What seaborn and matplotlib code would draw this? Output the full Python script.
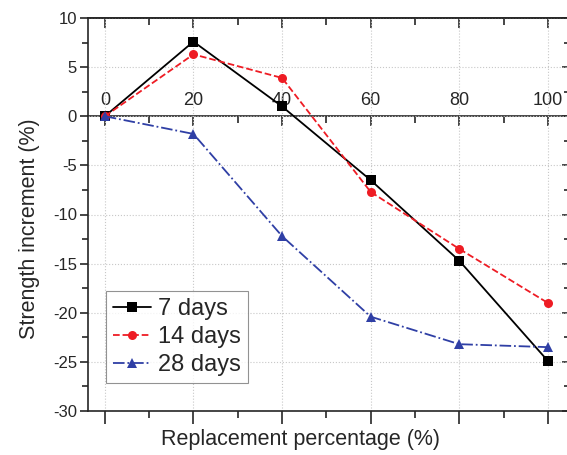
import matplotlib
matplotlib.use('Agg')
import matplotlib.pyplot as plt
import matplotlib.ticker as mticker
import seaborn as sns
import pandas as pd

# replacement percentage (%)
replacement = [0, 20, 40, 60, 80, 100]
# strength increment (%)
days7 = [0, 7.6, 1.0, -6.5, -14.7, -24.9]
days14 = [0, 6.3, 3.9, -7.7, -13.5, -19.0]
days28 = [0, -1.8, -12.2, -20.4, -23.2, -23.5]

series_names = ['7 days', '14 days', '28 days']
colors = ['#000000', '#ee1c24', '#2f3fa5']
markers = ['s', 'o', '^']
styles = ['-', '--', '-.']

df = pd.DataFrame({'x': replacement * 3,
                   'y': days7 + days14 + days28,
                   'age': [n for n in series_names for _ in replacement]})

sns.set_theme(style='ticks')
plt.rcParams['font.family'] = ['Liberation Sans', 'DejaVu Sans']
plt.rcParams['axes.unicode_minus'] = False

fig = plt.figure(figsize=(5.67, 4.55), dpi=100)
ax = fig.add_axes([88/567, 1-411/455, (570-88)/567, (411-18)/455])

for name, c, m, ls in zip(series_names, colors, markers, styles):
    sns.lineplot(data=df[df['age'] == name], x='x', y='y', ax=ax,
                 color=c, marker=m, linestyle=ls, linewidth=1.3,
                 markersize=6.5, markeredgewidth=0, label=name)

ax.set_xlim(-3.8, 105)
ax.set_ylim(-30, 10)
ax.xaxis.set_major_locator(mticker.MultipleLocator(20))
ax.xaxis.set_minor_locator(mticker.MultipleLocator(10))
ax.yaxis.set_major_locator(mticker.MultipleLocator(5))
ax.yaxis.set_minor_locator(mticker.MultipleLocator(2.5))
ax.grid(True, which='major', linestyle=':', color='#c8c8c8', linewidth=0.8)

ax.tick_params(axis='x', which='major', direction='out', length=9, width=1.2, labelbottom=False)
ax.tick_params(axis='x', which='minor', direction='out', length=5, width=1.2)
ax.tick_params(axis='y', which='major', direction='out', length=6, width=1.2, labelsize=12, pad=2)
ax.tick_params(axis='y', which='minor', direction='out', length=4, width=1.2)
for s in ax.spines.values():
    s.set_linewidth(1.2)

# x axis through y = 0 with labels above
mid = ax.secondary_xaxis(0.75)
mid.xaxis.set_major_locator(mticker.MultipleLocator(20))
mid.xaxis.set_minor_locator(mticker.MultipleLocator(10))
mid.tick_params(which='major', direction='in', length=7, width=1.2, labelsize=13, pad=5)
mid.tick_params(which='minor', direction='in', length=5, width=1.2)
mid.spines['top'].set_linewidth(1.2)

top = ax.secondary_xaxis('top')
top.xaxis.set_major_locator(mticker.MultipleLocator(20))
top.xaxis.set_minor_locator(mticker.MultipleLocator(10))
top.tick_params(which='major', direction='in', length=7, width=1.2, labeltop=False)
top.tick_params(which='minor', direction='in', length=5, width=1.2)

right = ax.secondary_yaxis('right')
right.yaxis.set_major_locator(mticker.MultipleLocator(5))
right.yaxis.set_minor_locator(mticker.MultipleLocator(2.5))
right.tick_params(which='major', direction='in', length=6, width=1.2, labelright=False)
right.tick_params(which='minor', direction='in', length=4, width=1.2)

ax.set_xlabel('Replacement percentage (%)', fontsize=15.5)
ax.xaxis.set_label_coords(0.44, -0.047)
ax.set_ylabel('Strength increment (%)', fontsize=15.5)
ax.yaxis.set_label_coords(-0.10, 0.465)

leg = ax.legend(loc='lower left', bbox_to_anchor=(0.037, 0.071), fontsize=17,
                frameon=True, fancybox=False, edgecolor='#777777',
                handlelength=1.6, handletextpad=0.3, labelspacing=0.25,
                borderpad=0.3, borderaxespad=0)
leg.get_frame().set_linewidth(0.8)

fig.savefig('out.png', dpi=100)
